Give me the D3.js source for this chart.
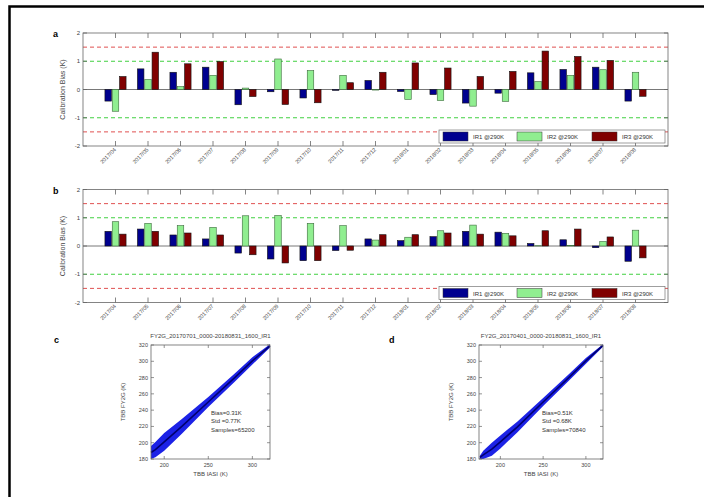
<!DOCTYPE html>
<html lang="en">
<head>
<meta charset="UTF-8">
<title>Calibration Bias</title>
<script src="https://d3js.org/d3.v7.min.js"></script>
<style>
  body { margin: 0; background: #fff; }
  svg { display: block; font-family: "Liberation Sans", Arial, sans-serif; }
</style>
</head>
<body>
<svg id="chart" width="704" height="497"></svg>
<script>
// months on the bar charts
const months = ["2017/04","2017/05","2017/06","2017/07","2017/08","2017/09","2017/10","2017/11","2017/12",
                "2018/01","2018/02","2018/03","2018/04","2018/05","2018/06","2018/07","2018/08"];
const seriesNames = ["IR1 @290K", "IR2 @290K", "IR3 @290K"];
const seriesColors = ["#00008f", "#90ee90", "#800000"];

// panel a
const aIR1 = [-0.41, 0.73, 0.61, 0.79, -0.54, -0.08, -0.30, -0.03, 0.32, -0.07, -0.18, -0.48, -0.13, 0.59, 0.71, 0.79, -0.41];
const aIR2 = [-0.77, 0.35, 0.10, 0.50, 0.05, 1.08, 0.67, 0.50, -0.02, -0.35, -0.39, -0.59, -0.42, 0.28, 0.50, 0.70, 0.61];
const aIR3 = [0.46, 1.32, 0.91, 0.99, -0.25, -0.53, -0.47, 0.24, 0.61, 0.94, 0.76, 0.46, 0.64, 1.36, 1.17, 1.03, -0.24];
// panel b
const bIR1 = [0.52, 0.60, 0.39, 0.25, -0.25, -0.46, -0.52, -0.16, 0.25, 0.19, 0.33, 0.52, 0.49, 0.09, 0.22, -0.06, -0.54];
const bIR2 = [0.86, 0.80, 0.72, 0.66, 1.07, 1.08, 0.80, 0.72, 0.21, 0.31, 0.54, 0.74, 0.45, 0.01, 0.02, 0.16, 0.56];
const bIR3 = [0.42, 0.52, 0.46, 0.39, -0.31, -0.60, -0.52, -0.15, 0.40, 0.40, 0.46, 0.42, 0.36, 0.54, 0.60, 0.32, -0.42];

const biasTicks = [-2, -1, 0, 1, 2];
const refLines = [{v: 1.5, c: "#e05050"}, {v: -1.5, c: "#e05050"}, {v: 1, c: "#40d040"}, {v: -1, c: "#40d040"}];

// scatter panels: band (x, lower y, upper y)
const bandX = [185, 190, 200, 220, 250, 280, 300, 320];
const cLo = [180, 182, 190, 211, 244, 275, 296, 317];
const cHi = [196, 201, 212, 229, 256, 285, 305, 321];
const dX = [176, 180, 190, 200, 220, 250, 280, 300, 320];
const dLo = [180, 180, 184, 193, 213, 245, 276, 297, 318];
const dHi = [184, 190, 200, 209, 226, 255, 284, 304, 321];
const tbbYTicks = [180, 200, 220, 240, 260, 280, 300, 320];
const tbbXTicks = [200, 250, 300];
const cStats = ["Bias=0.31K", "Std =0.77K", "Samples=65200"];
const dStats = ["Bias=0.51K", "Std =0.68K", "Samples=70840"];

const svg = d3.select("#chart");

// outer frame
svg.append("path").attr("d", "M9.5,497 V6.5 H704").attr("fill", "none")
  .attr("stroke", "#000").attr("stroke-width", 2.5);

function barPanel(label, top, vals) {
  const bottom = top + 113;
  const x = d3.scaleLinear().domain([0, 18]).range([83, 668]);
  const y = d3.scaleLinear().domain([-2, 2]).range([bottom, top]);
  const g = svg.append("g");

  refLines.forEach(r => {
    g.append("line").attr("x1", 83).attr("x2", 668).attr("y1", y(r.v)).attr("y2", y(r.v))
      .attr("stroke", r.c).attr("stroke-width", 1).attr("stroke-dasharray", "4,3");
  });
  g.append("line").attr("x1", 83).attr("x2", 668).attr("y1", y(0)).attr("y2", y(0))
    .attr("stroke", "#555").attr("stroke-width", 0.8);

  const bw = x(0.2) - x(0);
  vals.forEach((arr, k) => {
    g.selectAll(null).data(arr).enter().append("rect")
      .attr("x", (d, i) => x(i + 1 + (k - 1) * 0.225) - bw / 2)
      .attr("y", d => y(Math.max(0, d)))
      .attr("width", bw)
      .attr("height", d => Math.abs(y(d) - y(0)))
      .attr("fill", seriesColors[k])
      .attr("stroke", k === 1 ? "#3a6a3a" : "#111").attr("stroke-width", 0.6);
  });

  // box
  g.append("rect").attr("x", 83).attr("y", top).attr("width", 585).attr("height", bottom - top)
    .attr("fill", "none").attr("stroke", "#666").attr("stroke-width", 0.8);

  // x ticks (inside, top and bottom) + rotated labels
  months.forEach((m, i) => {
    const xx = x(i + 1);
    g.append("line").attr("x1", xx).attr("x2", xx).attr("y1", top).attr("y2", top + 5).attr("stroke", "#666").attr("stroke-width", 0.8);
    g.append("line").attr("x1", xx).attr("x2", xx).attr("y1", bottom).attr("y2", bottom - 5).attr("stroke", "#666").attr("stroke-width", 0.8);
    g.append("text").attr("transform", `translate(${xx + 1},${bottom + 4}) rotate(-45)`)
      .attr("text-anchor", "end").attr("font-size", 5.5).attr("fill", "#444").text(m);
  });
  biasTicks.forEach(t => {
    g.append("line").attr("x1", 83).attr("x2", 87).attr("y1", y(t)).attr("y2", y(t)).attr("stroke", "#666").attr("stroke-width", 0.8);
    g.append("line").attr("x1", 668).attr("x2", 664).attr("y1", y(t)).attr("y2", y(t)).attr("stroke", "#666").attr("stroke-width", 0.8);
    g.append("text").attr("x", 80).attr("y", y(t) + 2).attr("text-anchor", "end")
      .attr("font-size", 6).attr("fill", "#444").text(t);
  });
  g.append("text").attr("transform", `translate(65,${(top + bottom) / 2}) rotate(-90)`)
    .attr("text-anchor", "middle").attr("font-size", 7).attr("fill", "#444").text("Calibration Bias (K)");
  g.append("text").attr("x", 53).attr("y", top + 4).attr("font-size", 9).attr("font-weight", "bold").text(label);

  // legend
  const ly = bottom - 16;
  g.append("rect").attr("x", 439).attr("y", ly).attr("width", 226).attr("height", 13)
    .attr("fill", "#fff").attr("stroke", "#777").attr("stroke-width", 0.7);
  const lx = [443, 517, 592];
  seriesNames.forEach((n, k) => {
    g.append("rect").attr("x", lx[k]).attr("y", ly + 2).attr("width", 25).attr("height", 9)
      .attr("fill", seriesColors[k]).attr("stroke", "#333").attr("stroke-width", 0.5);
    g.append("text").attr("x", lx[k] + 30).attr("y", ly + 9).attr("font-size", 6).attr("fill", "#333").text(n);
  });
}

barPanel("a", 33, [aIR1, aIR2, aIR3]);
barPanel("b", 189.5, [bIR1, bIR2, bIR3]);

function scatterPanel(label, left, right, xDom, xs, lo, hi, title, stats, labelX, statX) {
  const top = 345, bottom = 459;
  const x = d3.scaleLinear().domain(xDom).range([left, right]);
  const y = d3.scaleLinear().domain([180, 320]).range([bottom, top]);
  const g = svg.append("g");
  const band = xs.map((v, i) => ({x: v, lo: lo[i], hi: hi[i]}));

  g.append("path").datum(band)
    .attr("d", d3.area().x(d => x(d.x)).y0(d => y(d.lo)).y1(d => y(d.hi)))
    .attr("fill", "#1c22e6");
  g.append("path").datum(band)
    .attr("d", d3.line().x(d => x(d.x)).y(d => y((d.lo + d.hi) / 2)))
    .attr("fill", "none").attr("stroke", "#000070").attr("stroke-width", 1.6);

  g.append("rect").attr("x", left).attr("y", top).attr("width", right - left).attr("height", bottom - top)
    .attr("fill", "none").attr("stroke", "#666").attr("stroke-width", 0.8);

  tbbYTicks.forEach(t => {
    g.append("line").attr("x1", left).attr("x2", left + 3).attr("y1", y(t)).attr("y2", y(t)).attr("stroke", "#666").attr("stroke-width", 0.7);
    g.append("line").attr("x1", right).attr("x2", right - 3).attr("y1", y(t)).attr("y2", y(t)).attr("stroke", "#666").attr("stroke-width", 0.7);
    g.append("text").attr("x", left - 3).attr("y", y(t) + 2).attr("text-anchor", "end")
      .attr("font-size", 5.5).attr("fill", "#444").text(t);
  });
  tbbXTicks.forEach(t => {
    g.append("line").attr("x1", x(t)).attr("x2", x(t)).attr("y1", bottom).attr("y2", bottom - 3).attr("stroke", "#666").attr("stroke-width", 0.7);
    g.append("line").attr("x1", x(t)).attr("x2", x(t)).attr("y1", top).attr("y2", top + 3).attr("stroke", "#666").attr("stroke-width", 0.7);
    g.append("text").attr("x", x(t)).attr("y", bottom + 8).attr("text-anchor", "middle")
      .attr("font-size", 5.5).attr("fill", "#444").text(t);
  });
  g.append("text").attr("x", (left + right) / 2).attr("y", top - 7).attr("text-anchor", "middle")
    .attr("font-size", 6).attr("fill", "#444").text(title);
  g.append("text").attr("x", (left + right) / 2).attr("y", bottom + 17).attr("text-anchor", "middle")
    .attr("font-size", 6).attr("fill", "#444").text("TBB IASI (K)");
  g.append("text").attr("transform", `translate(${left - 26},${(top + bottom) / 2}) rotate(-90)`)
    .attr("text-anchor", "middle").attr("font-size", 6).attr("fill", "#444").text("TBB FY2G (K)");
  stats.forEach((s, i) => {
    g.append("text").attr("x", statX).attr("y", 415 + i * 8.3).attr("font-size", 6).attr("fill", "#333").text(s);
  });
  g.append("text").attr("x", labelX).attr("y", 343).attr("font-size", 9).attr("font-weight", "bold").text(label);
}

scatterPanel("c", 151, 270, [185, 320], bandX, cLo, cHi, "FY2G_20170701_0000-20180831_1600_IR1", cStats, 54, 211);
scatterPanel("d", 479, 603, [175, 320], dX, dLo, dHi, "FY2G_20170401_0000-20180831_1600_IR1", dStats, 389, 542);
</script>
</body>
</html>
